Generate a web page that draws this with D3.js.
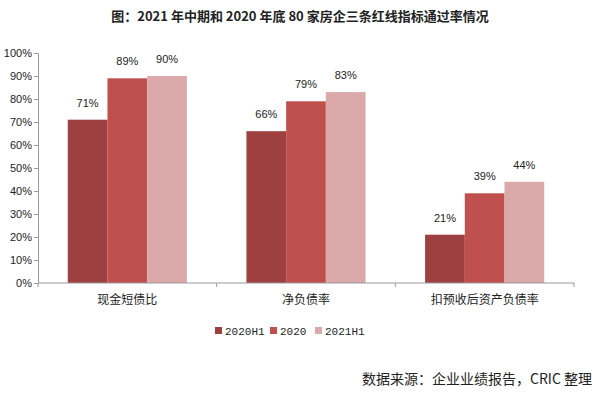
<!DOCTYPE html>
<html>
<head>
<meta charset="utf-8">
<script src="https://cdn.jsdelivr.net/npm/d3@7"></script>
<style>
  body { margin: 0; background: #fff; }
  svg { display: block; }
  .num { font-family: "Liberation Sans", Arial, sans-serif; font-size: 11px; fill: #222; }
  .mono { font-family: "Liberation Mono", monospace; font-size: 11px; fill: #222; }
  .cjk { font-family: "Noto Sans CJK SC", sans-serif; fill: #222; }
</style>
</head>
<body>
<div id="chart-container"></div>
<script>
// chart data
const categories = ["现金短债比", "净负债率", "扣预收后资产负债率"];
const seriesNames = ["2020H1", "2020", "2021H1"];
const values2020H1 = [71, 66, 21];
const values2020 = [89, 79, 39];
const values2021H1 = [90, 83, 44];
const yTicks = [0, 10, 20, 30, 40, 50, 60, 70, 80, 90, 100];

const colors = ["#9E4040", "#C0504D", "#DBA9A9"];
const width = 600;
const height = 397;
const margin = { top: 53, right: 26, bottom: 114, left: 38 };

const seriesValues = [values2020H1, values2020, values2021H1];
const rows = categories.map((c, i) => ({
    cat: c,
    vals: seriesNames.map((s, j) => ({ key: s, value: seriesValues[j][i], idx: j }))
}));

const svg = d3.select("#chart-container")
    .append("svg")
    .attr("width", width)
    .attr("height", height);

// title
svg.append("text")
    .attr("class", "cjk")
    .attr("x", 300)
    .attr("y", 21)
    .attr("text-anchor", "middle")
    .attr("font-size", "13px")
    .attr("font-weight", "bold")
    .text("图：2021 年中期和 2020 年底 80 家房企三条红线指标通过率情况");

const x0 = d3.scaleBand()
    .domain(categories)
    .range([margin.left, width - margin.right])
    .padding(0);

const x1 = d3.scaleBand()
    .domain(seriesNames)
    .range([0, x0.bandwidth()])
    .paddingInner(0)
    .paddingOuter(0.75);

const y = d3.scaleLinear()
    .domain([0, 100])
    .range([height - margin.bottom, margin.top]);

const color = d3.scaleOrdinal().domain(seriesNames).range(colors);

// bars
const groups = svg.selectAll("g.cat")
    .data(rows)
    .enter()
    .append("g")
    .attr("class", "cat")
    .attr("transform", (d) => `translate(${x0(d.cat)},0)`);

groups.selectAll("rect")
    .data((d) => d.vals)
    .enter()
    .append("rect")
    .attr("x", (d) => x1(d.key))
    .attr("y", (d) => y(d.value))
    .attr("width", x1.bandwidth())
    .attr("height", (d) => y(0) - y(d.value))
    .attr("fill", (d) => color(d.key));

// value labels
groups.selectAll("text.val")
    .data((d) => d.vals)
    .enter()
    .append("text")
    .attr("class", "num val")
    .attr("x", (d) => x1(d.key) + x1.bandwidth() / 2)
    .attr("y", (d) => y(d.value) - 13)
    .attr("text-anchor", "middle")
    .text((d) => d.value + "%");

// y axis
const yAxis = svg.append("g")
    .attr("transform", `translate(${margin.left},0)`)
    .call(d3.axisLeft(y).tickValues(yTicks).tickSize(4).tickFormat((d) => d + "%"));
yAxis.selectAll("text").attr("class", "num").attr("font-size", null).attr("font-family", null).attr("x", -6);
yAxis.selectAll("line, path").attr("stroke", "#9a9a9a");

// x axis with ticks at category boundaries
const xEdges = categories.map((c) => x0(c)).concat([x0(categories[categories.length - 1]) + x0.bandwidth()]);
const xAxis = svg.append("g")
    .attr("transform", `translate(0,${y(0)})`);
xAxis.append("line")
    .attr("x1", margin.left)
    .attr("x2", width - margin.right)
    .attr("stroke", "#9a9a9a");
xAxis.selectAll("line.tick")
    .data(xEdges)
    .enter()
    .append("line")
    .attr("class", "tick")
    .attr("x1", (d) => d)
    .attr("x2", (d) => d)
    .attr("y1", 0)
    .attr("y2", 4)
    .attr("stroke", "#9a9a9a");
xAxis.selectAll("text")
    .data(categories)
    .enter()
    .append("text")
    .attr("class", "cjk")
    .attr("font-size", "12px")
    .attr("x", (d) => x0(d) + x0.bandwidth() / 2)
    .attr("y", 21)
    .attr("text-anchor", "middle")
    .text((d) => d);

// legend
const legendX = [215, 270, 315];
const legend = svg.append("g").attr("transform", "translate(0,331)");
const items = legend.selectAll("g")
    .data(seriesNames)
    .enter()
    .append("g")
    .attr("transform", (d, i) => `translate(${legendX[i]},0)`);
items.append("rect")
    .attr("x", 0)
    .attr("y", -4)
    .attr("width", 7)
    .attr("height", 7)
    .attr("fill", (d) => color(d));
items.append("text")
    .attr("class", "mono")
    .attr("x", 10)
    .attr("y", 3.5)
    .text((d) => d);

// source
svg.append("text")
    .attr("class", "cjk")
    .attr("x", 592)
    .attr("y", 384)
    .attr("text-anchor", "end")
    .attr("font-size", "14px")
    .text("数据来源：企业业绩报告，CRIC 整理");
</script>
</body>
</html>
